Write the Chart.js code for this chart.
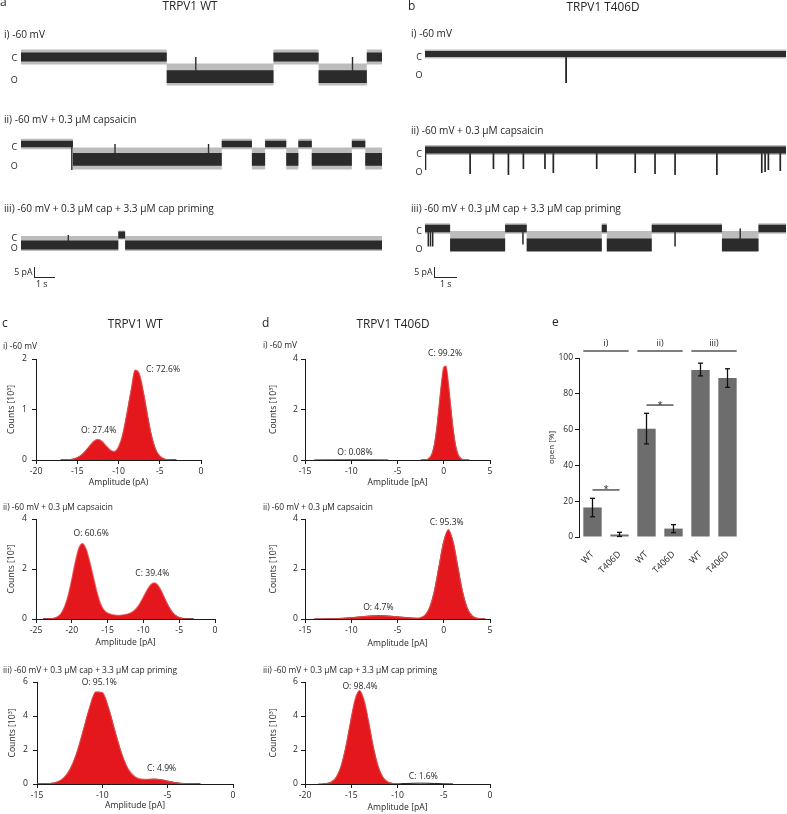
<!DOCTYPE html>
<html><head><meta charset="utf-8"><title>TRPV1 WT vs T406D</title>
<script src="https://cdn.jsdelivr.net/npm/chart.js@4.4.1/dist/chart.umd.min.js"></script>
<style>
html,body{margin:0;padding:0;background:#fff}
#wrap{position:relative;width:787px;height:814px;overflow:hidden;font-family:'Open Sans',sans-serif;color:#262626}
#wrap canvas{position:absolute;left:0;top:0}
.lb{position:absolute;white-space:nowrap;line-height:1}
.sb{position:absolute;background:#262626}
</style></head><body><div id="wrap"></div>
<script>
// ================= DATA =================
// Panels a/b: single-channel traces. Segment start times (s), gating state, open level (pA rel. to closed)
const traceTimeSpan = [0, 16.4];

const wtI_start = [0, 6.62, 11.47, 13.52, 15.71];
const wtI_state = ['C','O','C','O','C'];
const wtI_openLevel = -9.8;
const wtI_eventT = [7.94, 15.06];
const wtI_eventTo = [0, 0];

const wtII_start = [0, 2.36, 9.12, 10.49, 11.09, 12.05, 12.6, 13.21, 15.03, 15.64];
const wtII_state = ['C','O','C','O','C','O','C','O','C','O'];
const wtII_openLevel = -7.7;
const wtII_eventT = [2.31, 4.27, 8.52];
const wtII_eventTo = [-13, 0, 0];

const wtIII_start = [0, 4.42, 4.73];
const wtIII_state = ['O','C','O'];
const wtIII_openLevel = -5;
const wtIII_eventT = [2.15];
const wtIII_eventTo = [0];

const tdI_start = [0];
const tdI_state = ['C'];
const tdI_openLevel = -9.5;
const tdI_eventT = [6.41];
const tdI_eventTo = [-14.5];

const tdII_start = [0];
const tdII_state = ['C'];
const tdII_openLevel = -9.5;
const tdII_eventT = [0.02, 2.05, 3.11, 3.79, 4.47, 5.45, 5.83, 7.8, 9.55, 10.45, 11.36, 13.26, 15.3, 15.45, 15.6, 16.14];
const tdII_eventTo = [-10, -12, -9.5, -12.5, -9.5, -9.5, -11.5, -9.5, -11.5, -12, -12.5, -12.5, -11.5, -11, -10, -10.5];

const tdIII_start = [0, 1.14, 3.64, 4.62, 8.03, 8.26, 10.3, 13.49, 15.15];
const tdIII_state = ['C','O','C','O','C','O','C','O','C'];
const tdIII_openLevel = -8.2;
const tdIII_eventT = [0.15, 0.25, 0.35, 4.45, 11.36, 14.32];
const tdIII_eventTo = [-9, -9, -9, -8, -9, 0];

// Panels c/d: amplitude histograms (pA) and Gaussian fits (counts x10^3)
const ciAmp = [-17,-16.5,-16,-15.5,-15,-14.5,-14,-13.5,-13,-12.5,-12,-11.5,-11,-10.5,-10,-9.5,-9,-8.5,-8,-7.5,-7,-6.5,-6,-5.5,-5,-4.5,-4,-3.5,-3];
const ciCounts = [0,0.002,0.006,0.02,0.05,0.1,0.18,0.28,0.37,0.41,0.37,0.28,0.2,0.17,0.26,0.5,0.9,1.36,1.78,1.72,1.36,0.9,0.48,0.21,0.08,0.025,0.006,0,0];
const ciFitO = [0,0.001,0.005,0.017,0.043,0.095,0.174,0.269,0.348,0.38,0.348,0.269,0.174,0.095,0.043,0.017,0.005,0.001,0,0,0,0,0,0,0,0,0,0,0];
const ciFitC = [0,0,0,0,0,0,0,0,0,0,0.001,0.005,0.021,0.074,0.207,0.474,0.881,1.332,1.638,1.638,1.332,0.881,0.474,0.207,0.074,0.021,0.005,0.001,0];
const ciNotes = ['O: 27.4%','C: 72.6%'];
const ciNoteX = [-12.4,-4.6];
const ciNoteY = [0.59,1.8];

const ciiAmp = [-24,-23.5,-23,-22.5,-22,-21.5,-21,-20.5,-20,-19.5,-19,-18.5,-18,-17.5,-17,-16.5,-16,-15.5,-15,-14.5,-14,-13.5,-13,-12.5,-12,-11.5,-11,-10.5,-10,-9.5,-9,-8.5,-8,-7.5,-7,-6.5,-6,-5.5,-5,-4.5,-4,-3.5,-3];
const ciiCounts = [0,0.003,0.01,0.03,0.09,0.22,0.5,0.95,1.6,2.3,2.85,3.02,2.8,2.3,1.7,1.1,0.62,0.36,0.24,0.19,0.16,0.15,0.16,0.18,0.22,0.29,0.42,0.62,0.88,1.15,1.36,1.45,1.36,1.12,0.81,0.52,0.29,0.14,0.06,0.02,0.005,0,0];
const ciiFitO = [0,0.002,0.007,0.025,0.076,0.199,0.449,0.873,1.464,2.12,2.647,2.85,2.647,2.12,1.464,0.873,0.449,0.199,0.076,0.025,0.007,0.002,0,0,0,0,0,0,0,0,0,0,0,0,0,0,0,0,0,0,0,0,0];
const ciiFitC = [0,0,0,0,0,0,0,0,0,0,0,0,0,0,0,0,0,0,0,0,0,0.002,0.008,0.024,0.061,0.141,0.284,0.505,0.789,1.085,1.313,1.4,1.313,1.085,0.789,0.505,0.284,0.141,0.061,0.024,0.008,0.002,0];
const ciiNotes = ['O: 60.6%','C: 39.4%'];
const ciiNoteX = [-17.3,-8.75];
const ciiNoteY = [3.43,1.83];

const ciiiAmp = [-15,-14.5,-14,-13.5,-13,-12.5,-12,-11.5,-11,-10.5,-10,-9.5,-9,-8.5,-8,-7.5,-7,-6.5,-6,-5.5,-5,-4.5,-4,-3.5,-3,-2.5];
const ciiiCounts = [0.002,0.008,0.03,0.11,0.33,0.83,1.74,3.05,4.45,5.42,5.38,4.42,3.02,1.74,0.86,0.43,0.29,0.28,0.29,0.25,0.17,0.09,0.04,0.01,0.003,0];
const ciiiFitO = [0.001,0.006,0.026,0.099,0.31,0.797,1.696,2.992,4.366,5.275,5.275,4.366,2.992,1.696,0.797,0.31,0.099,0.026,0.006,0.001,0,0,0,0,0,0];
const ciiiFitC = [0,0,0,0,0,0,0,0,0,0,0,0,0.003,0.012,0.038,0.091,0.17,0.247,0.28,0.247,0.17,0.091,0.038,0.012,0.003,0];
const ciiiNotes = ['O: 95.1%','C: 4.9%'];
const ciiiNoteX = [-10.23,-5.46];
const ciiiNoteY = [5.98,0.92];

const diAmp = [-2.5,-2.25,-2,-1.75,-1.5,-1.25,-1,-0.75,-0.5,-0.25,0,0.25,0.5,0.75,1,1.25,1.5,1.75,2,2.25,2.5,2.75];
const diCounts = [0,0.002,0.008,0.03,0.1,0.27,0.64,1.28,2.15,3.05,3.68,3.72,3.05,2.12,1.26,0.63,0.26,0.09,0.027,0.007,0.001,0];
const diFitC = [0,0.001,0.007,0.027,0.091,0.257,0.612,1.226,2.063,2.92,3.474,3.474,2.92,2.063,1.226,0.612,0.257,0.091,0.027,0.007,0.001,0];
const diFitOAmp = [-14,-12,-10,-8,-6];
const diFitO = [0,0.003,0.005,0.003,0];
const diNotes = ['O: 0.08%','C: 99.2%'];
const diNoteX = [-9.6,0.14];
const diNoteY = [0.29,4.2];

const diiAmp = [-14,-13,-12,-11,-10,-9,-8,-7,-6,-5,-4,-3,-2.5,-2,-1.5,-1,-0.5,0,0.5,1,1.5,2,2.5,3,3.5,4,4.5];
const diiCounts = [0.001,0.003,0.01,0.025,0.051,0.086,0.117,0.13,0.117,0.086,0.051,0.033,0.056,0.164,0.48,1.14,2.13,3.1,3.58,3.1,2.13,1.14,0.47,0.15,0.04,0.01,0];
const diiFitCAmp = [-3.5,-3,-2.5,-2,-1.5,-1,-0.5,0,0.5,1,1.5,2,2.5,3,3.5,4,4.5];
const diiFitC = [0.001,0.008,0.039,0.154,0.474,1.136,2.123,3.089,3.5,3.089,2.123,1.136,0.474,0.154,0.039,0.008,0.001];
const diiFitOAmp = [-14,-13,-12,-11,-10,-9,-8,-7,-6,-5,-4,-3,-2,-1,0];
const diiFitO = [0.001,0.003,0.01,0.025,0.051,0.086,0.117,0.13,0.117,0.086,0.051,0.025,0.01,0.003,0.001];
const diiNotes = ['O: 4.7%','C: 95.3%'];
const diiNoteX = [-7.07,0.32];
const diiNoteY = [0.45,3.87];

const diiiAmp = [-18.6,-18.1,-17.6,-17.1,-16.6,-16.1,-15.6,-15.1,-14.6,-14.1,-13.6,-13.1,-12.6,-12.1,-11.6,-11.1,-10.6,-10.1,-9.6];
const diiiCounts = [0,0.008,0.036,0.135,0.42,1.05,2.15,3.6,4.95,5.5,4.9,3.6,2.15,1.05,0.42,0.14,0.045,0.02,0];
const diiiFitOAmp = [-18.1,-17.6,-17.1,-16.6,-16.1,-15.6,-15.1,-14.6,-14.1,-13.6,-13.1,-12.6,-12.1,-11.6,-11.1,-10.6,-10.1];
const diiiFitO = [0.007,0.034,0.129,0.401,1.015,2.094,3.509,4.781,5.3,4.781,3.509,2.094,1.015,0.401,0.129,0.034,0.007];
const diiiFitCAmp = [-11,-10,-9,-8,-7.5,-7,-6,-5,-4];
const diiiFitC = [0.002,0.012,0.03,0.047,0.05,0.047,0.03,0.012,0.002];
const diiiNotes = ['O: 98.4%','C: 1.6%'];
const diiiNoteX = [-14.05,-7.21];
const diiiNoteY = [5.76,0.43];

// Panel e: open probability
const openCats = ['WT','T406D','WT','T406D','WT','T406D'];
const openMean = [16.5, 1.4, 60.5, 4.7, 93.3, 88.8];
const openErrLow = [11.3, 0.3, 52.0, 2.4, 90.0, 83.6];
const openErrHigh = [21.6, 2.6, 69.1, 6.9, 97.1, 94.0];
const groupLabels = ['i)','ii)','iii)'];
const groupLineY = 103.9;
const groupLabelY = 108.3;
const sigPairs = [[0,1],[2,3]];
const sigY = [26.3, 73.7];
const sigMark = ['*','*'];

// ================= RENDER =================
const W = 787, H = 814;
const FONT = "'Open Sans', sans-serif";
const TXT = '#262626';
Chart.defaults.font.family = FONT;
Chart.defaults.color = TXT;
const wrap = document.getElementById('wrap');

function layer(){
  const c = document.createElement('canvas');
  c.width = W; c.height = H; c.style.width = W+'px'; c.style.height = H+'px';
  wrap.appendChild(c);
  return c.getContext('2d');
}
function xy(a,b){ return a.map((v,i)=>({x:v,y:b[i]})); }
const baseOpts = {responsive:false, animation:false, events:[], plugins:{legend:{display:false}, tooltip:{enabled:false}}};

// ---- traces ----
const traces = [
  {start:wtI_start, state:wtI_state, open:wtI_openLevel, evT:wtI_eventT, evTo:wtI_eventTo, x0:21, x1:382, yc:57, sw:1.4, noise:{C:[2.3,2.3,3.8,3.8], O:[3.2,3.2,6.5,4.5]}},
  {start:wtII_start, state:wtII_state, open:wtII_openLevel, evT:wtII_eventT, evTo:wtII_eventTo, x0:21, x1:382, yc:144, sw:1.4, noise:{C:[1.6,1.6,2.6,2.6], O:[3.2,3.2,6,5]}},
  {start:wtIII_start, state:wtIII_state, open:wtIII_openLevel, evT:wtIII_eventT, evTo:wtIII_eventTo, x0:21, x1:382, yc:235, sw:1.4, noise:{C:[1.7,1.7,2.3,2.3], O:[2.3,2.3,4.5,3]}},
  {start:tdI_start, state:tdI_state, open:tdI_openLevel, evT:tdI_eventT, evTo:tdI_eventTo, x0:425, x1:786, yc:54, sw:1.8, noise:{C:[1.5,1.5,2.2,2.2], O:[3,3,6,3]}},
  {start:tdII_start, state:tdII_state, open:tdII_openLevel, evT:tdII_eventT, evTo:tdII_eventTo, x0:425, x1:786, yc:150, sw:1.7, noise:{C:[1.8,1.8,2.5,2.5], O:[3,3,6,3]}},
  {start:tdIII_start, state:tdIII_state, open:tdIII_openLevel, evT:tdIII_eventT, evTo:tdIII_eventTo, x0:425, x1:786, yc:228.5, sw:1.5, noise:{C:[1.9,1.9,2.6,2.6], O:[3.2,3.2,7,3.5]}}
];
function traceChart(tr){
  const end = traceTimeSpan[1];
  const lvl = s => s === 'O' ? tr.open : 0;
  const band = k => {
    const up = [], dn = [];
    tr.start.forEach((s,i) => {
      const e = i+1 < tr.start.length ? tr.start[i+1] : end;
      const L = lvl(tr.state[i]); const n = tr.noise[tr.state[i]];
      up.push({x:s,y:L+n[k]},{x:e,y:L+n[k]});
      dn.push({x:s,y:L-n[k+1]},{x:e,y:L-n[k+1]});
    });
    return up.concat(dn.reverse());
  };
  const levelAt = t => { let L = 0; tr.start.forEach((s,i)=>{ if (t >= s) L = lvl(tr.state[i]); }); return L; };
  const spikes = [];
  tr.evT.forEach((t,i) => { spikes.push({x:t,y:levelAt(t)},{x:t,y:tr.evTo[i]},{x:t,y:null}); });
  new Chart(layer(), {
    type:'line',
    data:{datasets:[
      {data:band(2), fill:'shape', backgroundColor:'rgba(80,80,80,0.38)', borderColor:'transparent', borderWidth:0, pointRadius:0},
      {data:band(0), fill:'shape', backgroundColor:'#161616', borderColor:'transparent', borderWidth:0, pointRadius:0},
      {data:spikes, fill:false, borderColor:'#262626', borderWidth:tr.sw, pointRadius:0, spanGaps:false}
    ]},
    options:Object.assign({}, baseOpts, {
      layout:{padding:{left:tr.x0, right:W-tr.x1, top:tr.yc-20, bottom:H-(tr.yc+40)}},
      scales:{x:{type:'linear', display:false, min:traceTimeSpan[0], max:end}, y:{type:'linear', display:false, min:-20, max:10}}
    })
  });
}
traces.forEach(traceChart);

// ---- histograms ----
function notesPlugin(texts, xs, ys){
  return {id:'notes', afterDatasetsDraw(ch){
    const c = ch.ctx; c.save();
    c.font = '8.6px ' + FONT; c.fillStyle = TXT; c.textAlign = 'center'; c.textBaseline = 'middle';
    texts.forEach((t,i) => c.fillText(t, ch.scales.x.getPixelForValue(xs[i]), ch.scales.y.getPixelForValue(ys[i])));
    c.restore();
  }};
}
function histChart(h){
  const f = {family:FONT, size:8.6};
  const grid = {display:true, drawOnChartArea:false, drawTicks:true, tickLength:4, color:'#1a1a1a', lineWidth:1};
  const border = {display:true, color:'#1a1a1a', width:1};
  const ds = [{data:xy(h.amp,h.counts), fill:'origin', backgroundColor:'#e4171d', borderColor:'rgba(238,80,80,0.8)', borderWidth:1.2, pointRadius:0, cubicInterpolationMode:'monotone'}];
  h.fits.forEach(ft => ds.push({data:xy(ft[0],ft[1]), fill:false, borderColor:'#1c1c1c', borderWidth:1, pointRadius:0, cubicInterpolationMode:'monotone'}));
  new Chart(layer(), {
    type:'line',
    data:{datasets:ds},
    options:Object.assign({}, baseOpts, {
      layout:{padding:{left:h.area[0]-h.wy, right:W-h.area[1], top:h.area[2], bottom:H-h.area[3]-h.hx}},
      scales:{
        x:{type:'linear', min:h.xr[0], max:h.xr[1], grid, border,
           ticks:{stepSize:5, font:f, color:TXT, padding:2, maxRotation:0, autoSkip:false},
           title:{display:true, text:h.xt, font:f, color:TXT, padding:0},
           afterFit(s){ s.height = h.hx; }},
        y:{type:'linear', min:0, max:h.yr[0], grid, border,
           ticks:{stepSize:h.yr[1], font:f, color:TXT, padding:h.yp},
           title:{display:true, text:'Counts [10³]', font:f, color:TXT, padding:0},
           afterFit(s){ s.width = h.wy; }}
      }
    }),
    plugins:[notesPlugin(h.notes[0], h.notes[1], h.notes[2])]
  });
}
const hists = [
  {amp:ciAmp, counts:ciCounts, fits:[[ciAmp,ciFitO],[ciAmp,ciFitC]], notes:[ciNotes,ciNoteX,ciNoteY], xr:[-20,0], yr:[2,1], area:[36,201,359,460], wy:29.8, hx:27.6, yp:5, xt:'Amplitude (pA)'},
  {amp:ciiAmp, counts:ciiCounts, fits:[[ciiAmp,ciiFitO],[ciiAmp,ciiFitC]], notes:[ciiNotes,ciiNoteX,ciiNoteY], xr:[-25,0], yr:[4,2], area:[36,215,519,619], wy:29.8, hx:28.3, yp:5, xt:'Amplitude [pA]'},
  {amp:ciiiAmp, counts:ciiiCounts, fits:[[ciiiAmp,ciiiFitO],[ciiiAmp,ciiiFitC]], notes:[ciiiNotes,ciiiNoteX,ciiiNoteY], xr:[-15,0], yr:[6,2], area:[37,233,682,784], wy:29.4, hx:26.6, yp:5, xt:'Amplitude [pA]'},
  {amp:diAmp, counts:diCounts, fits:[[diAmp,diFitC],[diFitOAmp,diFitO]], notes:[diNotes,diNoteX,diNoteY], xr:[-15,5], yr:[4,2], area:[305,490,359,460], wy:36.8, hx:27.6, yp:3, xt:'Amplitude [pA]'},
  {amp:diiAmp, counts:diiCounts, fits:[[diiFitCAmp,diiFitC],[diiFitOAmp,diiFitO]], notes:[diiNotes,diiNoteX,diiNoteY], xr:[-15,5], yr:[4,2], area:[305,490,519,619], wy:36.8, hx:29.6, yp:3, xt:'Amplitude [pA]'},
  {amp:diiiAmp, counts:diiiCounts, fits:[[diiiFitOAmp,diiiFitO],[diiiFitCAmp,diiiFitC]], notes:[diiiNotes,diiiNoteX,diiiNoteY], xr:[-20,0], yr:[6,2], area:[305,490,682,784], wy:36.8, hx:28.3, yp:3, xt:'Amplitude [pA]'}
];
hists.forEach(histChart);

// ---- bar chart e ----
const eDeco = {id:'eDeco', afterDatasetsDraw(ch){
  const ctx = ch.ctx, ys = ch.scales.y, bars = ch.getDatasetMeta(0).data;
  const ln = (a,b,c,d) => { ctx.beginPath(); ctx.moveTo(a,b); ctx.lineTo(c,d); ctx.stroke(); };
  ctx.save();
  ctx.strokeStyle = '#111'; ctx.lineWidth = 1.3;
  openMean.forEach((m,i) => {
    const x = bars[i].x, y1 = ys.getPixelForValue(openErrLow[i]), y2 = ys.getPixelForValue(openErrHigh[i]);
    ln(x,y1,x,y2); ln(x-2.5,y1,x+2.5,y1); ln(x-2.5,y2,x+2.5,y2);
  });
  ctx.strokeStyle = '#555'; ctx.lineWidth = 1.5; ctx.fillStyle = TXT;
  ctx.font = '9.5px ' + FONT; ctx.textAlign = 'center'; ctx.textBaseline = 'alphabetic';
  sigPairs.forEach((p,k) => {
    const y = ys.getPixelForValue(sigY[k]);
    ln(bars[p[0]].x, y, bars[p[1]].x, y);
    ctx.fillText(sigMark[k], (bars[p[0]].x + bars[p[1]].x)/2, y + 2.5);
  });
  ctx.textBaseline = 'middle'; ctx.font = '9px ' + FONT;
  groupLabels.forEach((g,k) => {
    const a = bars[2*k], b = bars[2*k+1];
    const y = ys.getPixelForValue(groupLineY);
    ln(a.x - a.width/2, y, b.x + b.width/2, y);
    ctx.fillText(g, (a.x + b.x)/2, ys.getPixelForValue(groupLabelY));
  });
  ctx.restore();
}};
new Chart(layer(), {
  type:'bar',
  data:{labels:openCats, datasets:[{data:openMean, backgroundColor:'#6d6d6d', borderWidth:0, barPercentage:0.68, categoryPercentage:1}]},
  options:Object.assign({}, baseOpts, {
    layout:{padding:{left:579-32, right:W-741, top:358, bottom:H-537-45}},
    scales:{
      x:{ticks:{font:{family:FONT,size:9}, color:TXT, minRotation:45, maxRotation:45, padding:4, autoSkip:false},
         grid:{display:false}, border:{display:false}, afterFit(s){ s.height = 45; }},
      y:{min:0, max:100, ticks:{stepSize:20, font:{family:FONT,size:8.5}, color:TXT, padding:2},
         grid:{display:true, drawOnChartArea:false, tickLength:4, color:'#1a1a1a'}, border:{display:true, color:'#1a1a1a'},
         title:{display:true, text:'open [%]', font:{family:FONT,size:8}, color:TXT, padding:0},
         afterFit(s){ s.width = 32; }}
    }
  }),
  plugins:[eDeco]
});

// ---- text labels (HTML) ----
function label(text, x, y, size, align){
  const d = document.createElement('div');
  d.className = 'lb'; d.textContent = text;
  d.style.left = x + 'px'; d.style.top = y + 'px'; d.style.fontSize = size + 'px';
  const tx = align === 'c' ? '-50%' : (align === 'r' ? '-100%' : '0');
  d.style.transform = 'translate(' + tx + ',-50%)';
  wrap.appendChild(d);
}
const L_II = 'ii) -60 mV + 0.3 µM capsaicin';
const L_III = 'iii) -60 mV + 0.3 µM cap + 3.3 µM cap priming';
[
  ['a',0,2,12,'l'], ['b',408,6,12,'l'], ['c',2,322.7,12,'l'], ['d',262,322.7,12,'l'], ['e',552,322.2,12,'l'],
  ['TRPV1 WT',190,6.3,11.8,'c'], ['TRPV1 T406D',603,6.5,11.8,'c'],
  ['TRPV1 WT',135.3,323.7,11.8,'c'], ['TRPV1 T406D',393,323.7,11.8,'c'],
  ['i) -60 mV',4,34,10.1,'l'], [L_II,4,118.6,10.1,'l'], [L_III,4,208.4,10.1,'l'],
  ['i) -60 mV',411,33.4,10.1,'l'], [L_II,411,130.4,10.1,'l'], [L_III,411,208.3,10.1,'l'],
  ['i) -60 mV',3,346,8.4,'l'], [L_II,3,506.6,8.4,'l'], [L_III,3,669.6,8.4,'l'],
  ['i) -60 mV',263,345.4,8.4,'l'], [L_II,263,506.7,8.4,'l'], [L_III,263,669.7,8.4,'l'],
  ['C',14.3,56.7,9,'c'], ['O',14.3,79,9,'c'], ['C',14.3,145.7,9,'c'], ['O',14.3,165,9,'c'], ['C',14.3,236.7,9,'c'], ['O',14.3,247.3,9,'c'],
  ['C',419,56,9,'c'], ['O',419,74,9,'c'], ['C',419,152.7,9,'c'], ['O',419,170.7,9,'c'], ['C',419,230,9,'c'], ['O',419,248.3,9,'c'],
  ['5 pA',32.5,271.7,8.8,'r'], ['1 s',41.8,284.2,8.8,'c'],
  ['5 pA',432.5,271.7,8.8,'r'], ['1 s',445.8,284.2,8.8,'c']
].forEach(a => label(a[0], a[1], a[2], a[3], a[4]));

// scale bars
[[33.5,266.7,1.2,10.6],[33.5,276.8,21.8,1.2],[434,266.7,1.2,10.6],[434,276.8,22.5,1.2]].forEach(b => {
  const d = document.createElement('div'); d.className = 'sb';
  d.style.left = b[0]+'px'; d.style.top = b[1]+'px'; d.style.width = b[2]+'px'; d.style.height = b[3]+'px';
  wrap.appendChild(d);
});
</script></body></html>
